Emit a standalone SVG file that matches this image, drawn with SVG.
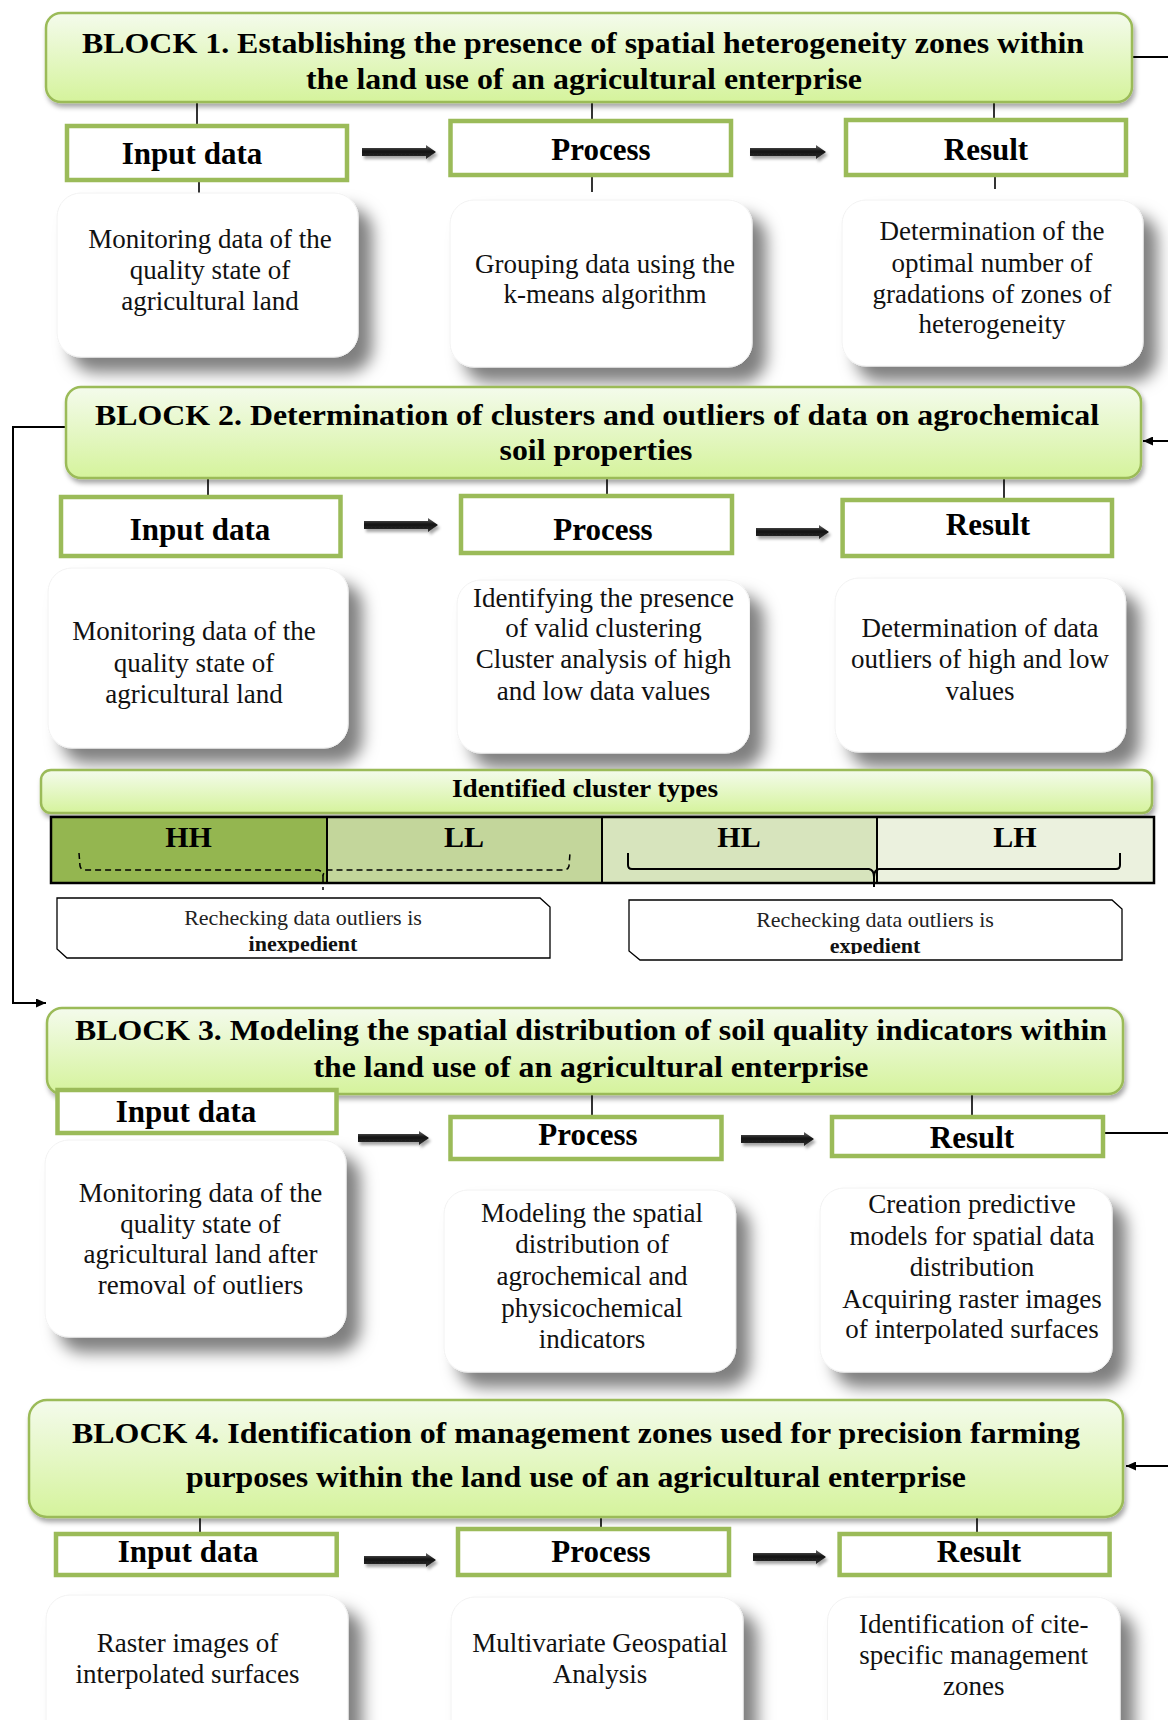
<svg xmlns="http://www.w3.org/2000/svg" width="1168" height="1720" viewBox="0 0 1168 1720">
<defs>
<linearGradient id="hg" x1="0" y1="0" x2="0" y2="1">
<stop offset="0" stop-color="#F4FBEC"/>
<stop offset="1" stop-color="#D5F39C"/>
</linearGradient>
<linearGradient id="ag" x1="0" y1="0" x2="0" y2="1">
<stop offset="0" stop-color="#6a6a6a"/>
<stop offset="0.45" stop-color="#111"/>
<stop offset="1" stop-color="#333"/>
</linearGradient>
<filter id="cs" x="-10%" y="-10%" width="135%" height="145%">
<feDropShadow dx="14" dy="15" stdDeviation="8" flood-color="#000" flood-opacity="0.5"/>
</filter>
<filter id="hs" x="-5%" y="-10%" width="110%" height="130%">
<feDropShadow dx="2" dy="4" stdDeviation="2.5" flood-color="#000" flood-opacity="0.35"/>
</filter>
<filter id="as" x="-10%" y="-50%" width="130%" height="250%">
<feDropShadow dx="2" dy="3" stdDeviation="1.5" flood-color="#000" flood-opacity="0.35"/>
</filter>
<marker id="ah" markerUnits="userSpaceOnUse" markerWidth="11" markerHeight="9" refX="10" refY="4.5" orient="auto">
<path d="M0,0 L10,4.5 L0,9 Z" fill="#000"/>
</marker>
<clipPath id="c1"><rect x="50" y="890" width="510" height="62.5"/></clipPath>
<clipPath id="c2"><rect x="620" y="890" width="510" height="64"/></clipPath>
<style>
.hdr{fill:url(#hg);stroke:#9BBB59;stroke-width:2.5;filter:url(#hs)}
.ht{font-family:"Liberation Serif","Times New Roman",serif;font-weight:bold;font-size:30px;fill:#000;text-anchor:middle}
.box{fill:#fff;stroke:#9BBB59;stroke-width:4.5}
.lt{font-family:"Liberation Serif","Times New Roman",serif;font-weight:bold;font-size:31px;fill:#000;text-anchor:middle}
.card{fill:#fff;stroke:#f2f2f2;stroke-width:1;filter:url(#cs)}
.ct{font-family:"Liberation Serif","Times New Roman",serif;font-size:27px;fill:#111;text-anchor:middle}
.ln{stroke:#000;stroke-width:1.6;fill:none}
.cn{stroke:#000;stroke-width:2;fill:none}
.ba{fill:url(#ag);filter:url(#as)}
.rt{font-family:"Liberation Serif","Times New Roman",serif;font-size:22px;fill:#222;text-anchor:middle}
.rb{font-family:"Liberation Serif","Times New Roman",serif;font-size:22px;font-weight:bold;fill:#111;text-anchor:middle}
.cl{font-family:"Liberation Serif","Times New Roman",serif;font-weight:bold;font-size:30px;fill:#000;text-anchor:middle}
.rbox{fill:#fff;stroke:#000;stroke-width:1.3}
</style>
</defs>
<rect width="1168" height="1720" fill="#fff"/>

<!-- connectors -->
<g id="connectors">
<line class="ln" x1="197" y1="102" x2="197" y2="124"/>
<line class="ln" x1="199" y1="182" x2="199" y2="193"/>
<line class="ln" x1="592" y1="102" x2="592" y2="119"/>
<line class="ln" x1="592" y1="177" x2="592" y2="192"/>
<line class="ln" x1="994" y1="102" x2="994" y2="118"/>
<line class="ln" x1="995" y1="177" x2="995" y2="189"/>
<line class="ln" x1="208" y1="478" x2="208" y2="495"/>
<line class="ln" x1="607" y1="478" x2="607" y2="494"/>
<line class="ln" x1="1004" y1="478" x2="1004" y2="498"/>
<line class="ln" x1="592" y1="1094" x2="592" y2="1115"/>
<line class="ln" x1="972" y1="1094" x2="972" y2="1115"/>
<line class="ln" x1="200" y1="1517" x2="200" y2="1532"/>
<line class="ln" x1="601" y1="1517" x2="601" y2="1527"/>
<line class="ln" x1="977" y1="1517" x2="977" y2="1532"/>
<line class="cn" x1="1132" y1="57" x2="1168" y2="57"/>
<line class="cn" x1="1168" y1="441" x2="1143" y2="441" marker-end="url(#ah)"/>
<polyline class="cn" points="66,427 13,427 13,1003 46,1003" marker-end="url(#ah)"/>
<line class="cn" x1="1105" y1="1133" x2="1168" y2="1133"/>
<line class="cn" x1="1168" y1="1466" x2="1126" y2="1466" marker-end="url(#ah)"/>
<polygon class="ba" points="362,148 426,148 426,145 436,152 426,159 426,156 362,156"/>
<polygon class="ba" points="750,148 816,148 816,145 826,152 816,159 816,156 750,156"/>
<polygon class="ba" points="364,521 428,521 428,518 438,525 428,532 428,529 364,529"/>
<polygon class="ba" points="756,528 819,528 819,525 829,532 819,539 819,536 756,536"/>
<polygon class="ba" points="358,1134 419,1134 419,1131 429,1138 419,1145 419,1142 358,1142"/>
<polygon class="ba" points="741,1135 804,1135 804,1132 814,1139 804,1146 804,1143 741,1143"/>
<polygon class="ba" points="364,1556 426,1556 426,1553 436,1560 426,1567 426,1564 364,1564"/>
<polygon class="ba" points="753,1553 816,1553 816,1550 826,1557 816,1564 816,1561 753,1561"/>
</g>

<!-- BLOCK 1 -->
<g id="block1">
<rect class="hdr" x="46" y="13" width="1086" height="89" rx="15"/>
<text class="ht" x="583" y="53" textLength="1002" lengthAdjust="spacingAndGlyphs">BLOCK 1. Establishing the presence of spatial heterogeneity zones within</text>
<text class="ht" x="584" y="89" textLength="556" lengthAdjust="spacingAndGlyphs">the land use of an agricultural enterprise</text>
</g>
<g id="b1-input"><rect class="box" x="67" y="126" width="280" height="54"/><text class="lt" x="192" y="164">Input data</text></g>
<g id="b1-process"><rect class="box" x="450.5" y="121" width="280.5" height="54"/><text class="lt" x="601" y="160">Process</text></g>
<g id="b1-result"><rect class="box" x="846" y="120" width="280" height="55"/><text class="lt" x="986" y="160">Result</text></g>
<g id="b1-input-card"><rect class="card" x="57" y="193" width="301" height="164" rx="24"/>
<text class="ct" x="210" y="248">Monitoring data of the</text><text class="ct" x="210" y="279">quality state of</text><text class="ct" x="210" y="310">agricultural land</text></g>
<g id="b1-process-card"><rect class="card" x="450" y="200" width="302" height="167" rx="24"/>
<text class="ct" x="605" y="273">Grouping data using the</text><text class="ct" x="605" y="303">k-means algorithm</text></g>
<g id="b1-result-card"><rect class="card" x="842" y="200" width="301" height="166" rx="24"/>
<text class="ct" x="992" y="240">Determination of the</text><text class="ct" x="992" y="272">optimal number of</text><text class="ct" x="992" y="303">gradations of zones of</text><text class="ct" x="992" y="333">heterogeneity</text></g>

<!-- BLOCK 2 -->
<g id="block2">
<rect class="hdr" x="66" y="387" width="1075" height="91" rx="15"/>
<text class="ht" x="597" y="425" textLength="1004" lengthAdjust="spacingAndGlyphs">BLOCK 2. Determination of clusters and outliers of data on agrochemical</text>
<text class="ht" x="596" y="460" textLength="193" lengthAdjust="spacingAndGlyphs">soil properties</text>
</g>
<g id="b2-input"><rect class="box" x="61" y="497" width="279.5" height="59"/><text class="lt" x="200" y="540">Input data</text></g>
<g id="b2-process"><rect class="box" x="461" y="496" width="271" height="57"/><text class="lt" x="603" y="540">Process</text></g>
<g id="b2-result"><rect class="box" x="842.6" y="500" width="269.4" height="56"/><text class="lt" x="988" y="535">Result</text></g>
<g id="b2-input-card"><rect class="card" x="48" y="568" width="300" height="180" rx="24"/>
<text class="ct" x="194" y="640">Monitoring data of the</text><text class="ct" x="194" y="672">quality state of</text><text class="ct" x="194" y="703">agricultural land</text></g>
<g id="b2-process-card"><rect class="card" x="457" y="580" width="292.5" height="173" rx="24"/>
<text class="ct" x="603.5" y="607">Identifying the presence</text><text class="ct" x="603.5" y="637">of valid clustering</text><text class="ct" x="603.5" y="668">Cluster analysis of high</text><text class="ct" x="603.5" y="700">and low data values</text></g>
<g id="b2-result-card"><rect class="card" x="835" y="578" width="290.6" height="174" rx="24"/>
<text class="ct" x="980" y="637">Determination of data</text><text class="ct" x="980" y="668">outliers of high and low</text><text class="ct" x="980" y="700">values</text></g>

<!-- cluster types -->
<g id="cluster-types">
<rect class="hdr" x="41" y="770" width="1111" height="43" rx="10"/>
<text class="ht" x="585" y="797" style="font-size:26px" textLength="266" lengthAdjust="spacingAndGlyphs">Identified cluster types</text>
</g>
<g id="cluster-table">
<rect x="51" y="817" width="276" height="66" fill="#94B650"/>
<rect x="327" y="817" width="275" height="66" fill="#C3D69B"/>
<rect x="602" y="817" width="275" height="66" fill="#D7E4BD"/>
<rect x="877" y="817" width="277" height="66" fill="#EBF1DE"/>
<rect x="51" y="817" width="1103" height="66" fill="none" stroke="#000" stroke-width="2.5"/>
<line x1="327" y1="817" x2="327" y2="883" stroke="#000" stroke-width="2"/>
<line x1="602" y1="817" x2="602" y2="883" stroke="#000" stroke-width="2"/>
<line x1="877" y1="817" x2="877" y2="883" stroke="#000" stroke-width="2"/>
<text class="cl" x="188.5" y="847">HH</text>
<text class="cl" x="464" y="847">LL</text>
<text class="cl" x="739" y="847">HL</text>
<text class="cl" x="1015" y="847">LH</text>
<path d="M79,853 L80,866 Q81,870 85,870 L318,870 Q323,871 323,877 Q323,871 328,870 L564,870 Q568,870 569,866 L570,853 M323,877 L323,890" fill="none" stroke="#000" stroke-width="1.5" stroke-dasharray="6,4"/>
<path d="M628,853 L628,865 Q628,869 632,869 L869,869 Q874,870 874,877 Q874,870 879,869 L1116,869 Q1120,869 1120,865 L1120,853 M874,877 L874,887" fill="none" stroke="#000" stroke-width="2"/>
</g>
<g id="recheck-inexpedient">
<path class="rbox" d="M57,898 L540,898 L550,907 L550,958 L67,958 L57,949 Z"/>
<text class="rt" x="303" y="925">Rechecking data outliers is</text>
<text class="rb" x="303" y="951" clip-path="url(#c1)">inexpedient</text>
</g>
<g id="recheck-expedient">
<path class="rbox" d="M629,900 L1112,900 L1122,909 L1122,960 L640,960 L629,951 Z"/>
<text class="rt" x="875" y="927">Rechecking data outliers is</text>
<text class="rb" x="875" y="953" clip-path="url(#c2)">expedient</text>
</g>

<!-- BLOCK 3 -->
<g id="block3">
<rect class="hdr" x="47" y="1008" width="1076" height="86" rx="15"/>
<text class="ht" x="591" y="1040" textLength="1032" lengthAdjust="spacingAndGlyphs">BLOCK 3. Modeling the spatial distribution of soil quality indicators within</text>
<text class="ht" x="591" y="1077" textLength="555" lengthAdjust="spacingAndGlyphs">the land use of an agricultural enterprise</text>
</g>
<g id="b3-input"><rect class="box" x="57.5" y="1090" width="279" height="43"/><text class="lt" x="186" y="1122">Input data</text></g>
<g id="b3-process"><rect class="box" x="450.5" y="1117" width="271" height="42"/><text class="lt" x="588" y="1145">Process</text></g>
<g id="b3-result"><rect class="box" x="832" y="1117" width="271" height="39"/><text class="lt" x="972" y="1148">Result</text></g>
<g id="b3-input-card"><rect class="card" x="45" y="1140" width="301" height="197" rx="24"/>
<text class="ct" x="200.5" y="1202">Monitoring data of the</text><text class="ct" x="200.5" y="1233">quality state of</text><text class="ct" x="200.5" y="1263">agricultural land after</text><text class="ct" x="200.5" y="1294">removal of outliers</text></g>
<g id="b3-process-card"><rect class="card" x="444" y="1190" width="291.6" height="182" rx="24"/>
<text class="ct" x="592" y="1222">Modeling the spatial</text><text class="ct" x="592" y="1253">distribution of</text><text class="ct" x="592" y="1285">agrochemical and</text><text class="ct" x="592" y="1317">physicochemical</text><text class="ct" x="592" y="1348">indicators</text></g>
<g id="b3-result-card"><rect class="card" x="820" y="1188" width="292" height="184" rx="24"/>
<text class="ct" x="972" y="1213">Creation predictive</text><text class="ct" x="972" y="1245">models for spatial data</text><text class="ct" x="972" y="1276">distribution</text><text class="ct" x="972" y="1308">Acquiring raster images</text><text class="ct" x="972" y="1338">of interpolated surfaces</text></g>

<!-- BLOCK 4 -->
<g id="block4">
<rect class="hdr" x="29" y="1400" width="1094" height="117" rx="18"/>
<text class="ht" x="576" y="1443" textLength="1008" lengthAdjust="spacingAndGlyphs">BLOCK 4. Identification of management zones used for precision farming</text>
<text class="ht" x="576" y="1487" textLength="780" lengthAdjust="spacingAndGlyphs">purposes within the land use of an agricultural enterprise</text>
</g>
<g id="b4-input"><rect class="box" x="56" y="1534" width="280.7" height="41"/><text class="lt" x="188" y="1562">Input data</text></g>
<g id="b4-process"><rect class="box" x="458" y="1529" width="271" height="46"/><text class="lt" x="601" y="1562">Process</text></g>
<g id="b4-result"><rect class="box" x="839.6" y="1534" width="270" height="41"/><text class="lt" x="979" y="1562">Result</text></g>
<g id="b4-input-card"><rect class="card" x="46" y="1595" width="302" height="160" rx="24"/>
<text class="ct" x="187.5" y="1652">Raster images of</text><text class="ct" x="187.5" y="1683">interpolated surfaces</text></g>
<g id="b4-process-card"><rect class="card" x="451" y="1597" width="292" height="160" rx="24"/>
<text class="ct" x="600" y="1652">Multivariate Geospatial</text><text class="ct" x="600" y="1683">Analysis</text></g>
<g id="b4-result-card"><rect class="card" x="827.5" y="1597" width="292.5" height="160" rx="24"/>
<text class="ct" x="973.7" y="1633">Identification of cite-</text><text class="ct" x="973.7" y="1664">specific management</text><text class="ct" x="973.7" y="1695">zones</text></g>
</svg>
